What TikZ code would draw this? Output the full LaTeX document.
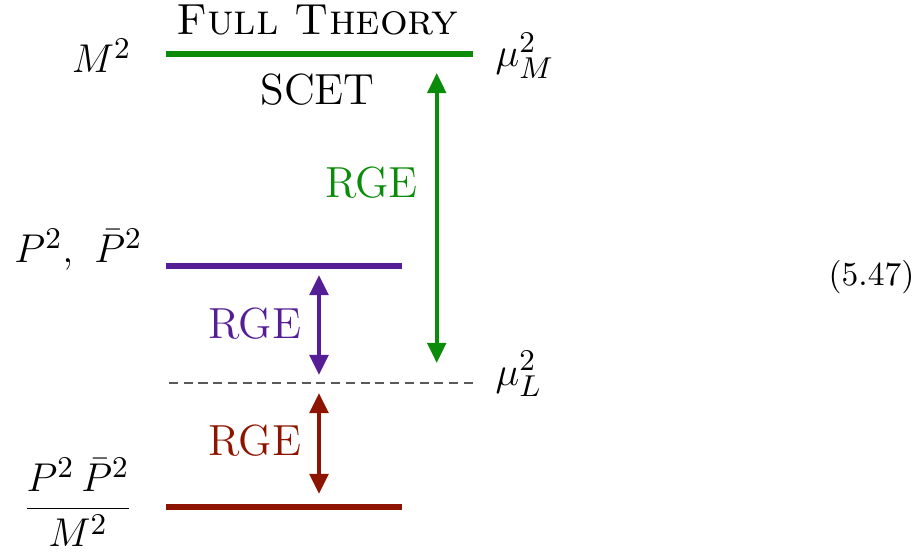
\documentclass[tikz,border=0pt]{standalone}
\usetikzlibrary{arrows.meta}
\definecolor{fullgreen}{RGB}{10,140,10}
\definecolor{scetpurple}{RGB}{85,30,150}
\definecolor{lowred}{RGB}{140,20,0}
\begin{document}
\begin{tikzpicture}[
			x=0.2985pt, y=-0.2985pt,
			every node/.style={inner sep=0pt, font=\fontsize{13}{15}\selectfont},
			level/.style={line width=1.5pt},
			run/.style={line width=1.2pt, {Triangle[width=5.5pt,length=6pt]}-{Triangle[width=5.5pt,length=6pt]}},
			lowcut/.style={gray!70!black, line width=0.6pt, dash pattern=on 2.7pt off 1.7pt}
		]
		\useasboundingbox (0,0) rectangle (918,552);
		% scales
		\coordinate (hardL) at (166,54);   \coordinate (hardR) at (473,54);
		\coordinate (collL) at (166,266);  \coordinate (collR) at (402,266);
		\coordinate (lowL)  at (169,383);  \coordinate (lowR)  at (477,383);
		\coordinate (softL) at (166,507);  \coordinate (softR) at (402,507);
		\draw[level, fullgreen] (hardL) -- (hardR);
		\draw[level, scetpurple] (collL) -- (collR);
		\draw[lowcut] (lowL) -- (lowR);
		\draw[level, lowred] (softL) -- (softR);
		% arrows between scales
		\coordinate (gTop) at (436.7,73);  \coordinate (gBot) at (436.7,363);
		\coordinate (pTop) at (319,275);   \coordinate (pBot) at (319,375);
		\coordinate (rTop) at (319,393);   \coordinate (rBot) at (319,494);
		\draw[run, fullgreen] (gTop) -- (gBot);
		\draw[run, scetpurple] (pTop) -- (pBot);
		\draw[run, lowred] (rTop) -- (rBot);
		% labels
		\node[anchor=base] (full) at (317,35) {\textsc{Full Theory}};
		\node[anchor=base] (scet) at (317.5,105) {SCET};
		\node[anchor=base east] (hard) at (132,73) {$M^2$};
		\node[anchor=base east] (coll) at (143,263) {$P^2,\ \bar{P}^2$};
		\node (soft) at (78,502) {$\displaystyle\frac{P^2\,\bar{P}^2}{M^2}$};
		\node[anchor=base west] (muM) at (495,67) {$\mu_M^2$};
		\node[anchor=base west] (muL) at (495,385) {$\mu_L^2$};
		\node[anchor=base, fullgreen] (rgeG) at (371.5,198) {RGE};
		\node[anchor=base, scetpurple] (rgeP) at (255,338) {RGE};
		\node[anchor=base, lowred] (rgeR) at (255,455) {RGE};
		\node[anchor=base west, font=\fontsize{10}{12}\selectfont] (eqno) at (828,285) {(5.47)};
	\end{tikzpicture}
\end{document}
